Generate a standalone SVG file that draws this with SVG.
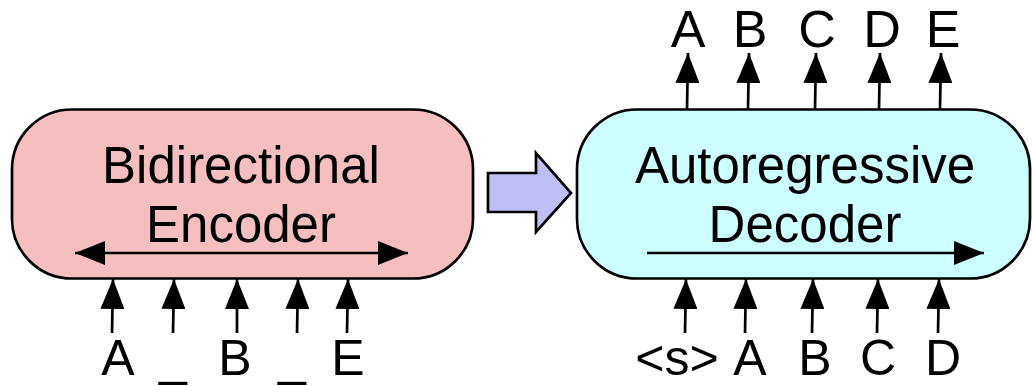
<svg xmlns="http://www.w3.org/2000/svg" width="1032" height="386" viewBox="0 0 1032 386">
<defs>
<style>
.box{stroke:#000;stroke-width:2.7}
.t{font-family:"Liberation Sans",Arial,Helvetica,sans-serif;font-size:51px;fill:#000;text-anchor:middle}
.tok{font-family:"Liberation Sans",Arial,Helvetica,sans-serif;font-size:50px;fill:#000;text-anchor:middle}
.top{font-family:"Liberation Sans",Arial,Helvetica,sans-serif;font-size:52px;fill:#000;text-anchor:middle}
.ln{stroke:#000;stroke-width:2.7;fill:none}
</style>
<marker id="ah2" viewBox="0 0 30 24" refX="30" refY="12" markerWidth="30" markerHeight="24" markerUnits="userSpaceOnUse" orient="auto-start-reverse">
<path d="M0,0 L30,12 L0,24 Z" fill="#000"/>
</marker>
</defs>
<rect width="1032" height="386" fill="#fff"/>
<g id="encoder">
<rect class="box" x="12" y="109.5" width="461" height="169" rx="60" ry="60" fill="#F5BFBF"/>
<text class="t" x="241" y="183">Bidirectional</text>
<text class="t" x="241" y="242">Encoder</text>
</g>
<g id="transfer">
<path d="M488,173 L536,173 L536,153 L571,193 L536,232 L536,212 L488,212 Z" fill="#BFBFF7" stroke="#000" stroke-width="2.7" stroke-linejoin="miter"/>
</g>
<g id="decoder">
<rect class="box" x="577" y="109.5" width="453" height="169" rx="60" ry="60" fill="#CCFFFF"/>
<text class="t" x="805" y="183">Autoregressive</text>
<text class="t" x="805" y="242">Decoder</text>
</g>
<g id="labels">
<text class="tok" x="118" y="375">A</text>
<text class="tok" x="173" y="375">_</text>
<text class="tok" x="235" y="375">B</text>
<text class="tok" x="292" y="375">_</text>
<text class="tok" x="348" y="375">E</text>
<text class="tok" x="677" y="375">&lt;s&gt;</text>
<text class="tok" x="750" y="375">A</text>
<text class="tok" x="815" y="375">B</text>
<text class="tok" x="878" y="375">C</text>
<text class="tok" x="943" y="375">D</text>
<text class="top" x="688" y="47">A</text>
<text class="top" x="750" y="47">B</text>
<text class="top" x="817" y="47">C</text>
<text class="top" x="882" y="47">D</text>
<text class="top" x="943" y="47">E</text>
</g>
<g id="connectors">
<line class="ln" x1="75" y1="253" x2="408" y2="253" marker-start="url(#ah2)" marker-end="url(#ah2)"/>
<line class="ln" x1="647" y1="253" x2="984" y2="253" marker-end="url(#ah2)"/>
<line class="ln" x1="112" y1="333" x2="113" y2="279" marker-end="url(#ah2)"/>
<line class="ln" x1="173" y1="333" x2="174" y2="279" marker-end="url(#ah2)"/>
<line class="ln" x1="237" y1="333" x2="237" y2="279" marker-end="url(#ah2)"/>
<line class="ln" x1="297" y1="333" x2="298" y2="279" marker-end="url(#ah2)"/>
<line class="ln" x1="347" y1="333" x2="348" y2="279" marker-end="url(#ah2)"/>
<line class="ln" x1="685" y1="333" x2="686" y2="279" marker-end="url(#ah2)"/>
<line class="ln" x1="745" y1="333" x2="746" y2="279" marker-end="url(#ah2)"/>
<line class="ln" x1="812" y1="333" x2="813" y2="279" marker-end="url(#ah2)"/>
<line class="ln" x1="877" y1="333" x2="878" y2="279" marker-end="url(#ah2)"/>
<line class="ln" x1="938" y1="333" x2="939" y2="279" marker-end="url(#ah2)"/>
<line class="ln" x1="687" y1="109" x2="688" y2="53" marker-end="url(#ah2)"/>
<line class="ln" x1="748" y1="109" x2="749" y2="53" marker-end="url(#ah2)"/>
<line class="ln" x1="815" y1="109" x2="816" y2="53" marker-end="url(#ah2)"/>
<line class="ln" x1="879" y1="109" x2="880" y2="53" marker-end="url(#ah2)"/>
<line class="ln" x1="940" y1="109" x2="941" y2="53" marker-end="url(#ah2)"/>
</g>
</svg>
